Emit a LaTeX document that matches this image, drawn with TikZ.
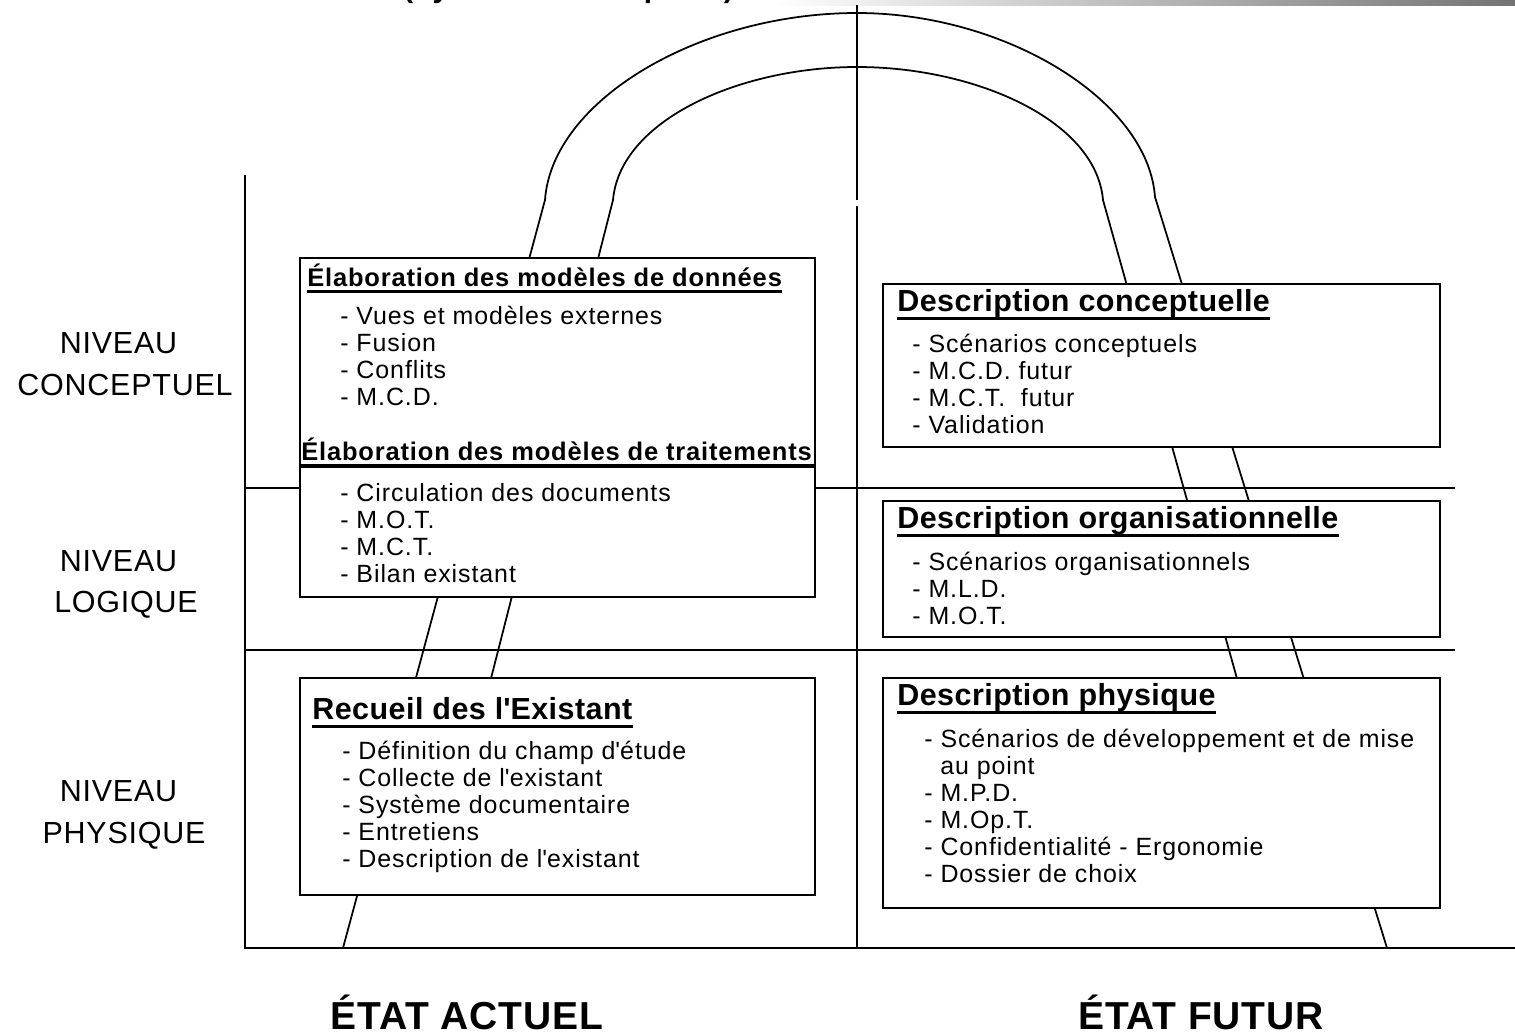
\documentclass[tikz,border=0pt]{standalone}
\usepackage{fontspec}
\setmainfont{Liberation Sans}
\newfontfamily\bodyfont{Liberation Sans}[LetterSpace=3.7]
\newfontfamily\headfont{Liberation Sans}[LetterSpace=3.3]
\newfontfamily\bigheadfont{Liberation Sans}[LetterSpace=1.5]
\newfontfamily\levelfont{Liberation Sans}[LetterSpace=2.5]
\newfontfamily\statefont{Liberation Sans}[LetterSpace=2]
\newfontfamily\titlefont{Liberation Sans}[LetterSpace=5]
\usetikzlibrary{calc}
\newcommand\pxu{0.02cm}
\newcommand\ap{\textquotesingle}

\tikzset{
  rule/.style={line width=1.1pt},
  band/.style={line width=1pt, line join=round},
  panel/.style={draw, line width=1.1pt, fill=white, inner sep=0pt},
  item/.style={anchor=base west, inner sep=0pt,
    font=\bodyfont\fontsize{14.2pt}{15.36pt}\selectfont},
  lhead/.style={anchor=base west, inner sep=0pt,
    font=\headfont\bfseries\fontsize{14.5pt}{17pt}\selectfont},
  rhead/.style={anchor=base west, inner sep=0pt,
    font=\bigheadfont\bfseries\fontsize{17.35pt}{20pt}\selectfont},
  level/.style={anchor=base, inner sep=0pt,
    font=\levelfont\fontsize{17.35pt}{20pt}\selectfont},
  state/.style={anchor=base, inner sep=0pt,
    font=\statefont\bfseries\fontsize{22.2pt}{26pt}\selectfont},
  titletext/.style={anchor=base west, inner sep=0pt,
    font=\titlefont\bfseries\fontsize{16.9pt}{20pt}\selectfont},
  uline/.style={line width=1.7pt},
}

\begin{document}
\begin{tikzpicture}[x=0.02cm, y=-0.02cm]
\useasboundingbox (0,0) rectangle (1515,1035);
\fill[white] (0,0) rectangle (1515,1035);

% slide banner
\shade[left color=white, middle color=black!18, right color=black!55] (773,0) rectangle (1515,5);

% title, cut by the top edge
\begin{scope}
  \clip (0,0) rectangle (1515,1035);
  \node[titletext] (title) at (403,-3) {(cycle de conception)};
\end{scope}

% axes and level separators
\coordinate (axtop) at (245,175);
\coordinate (axbot) at (245,948);
\coordinate (axend) at (1515,948);
\draw[rule] (axtop) -- (axbot) -- (axend);
\draw[rule] (857,5) -- (857,200);
\draw[rule] (857,206) -- (857,948);
\draw[rule] (245,488) -- (1455,488);
\draw[rule] (245,650) -- (1455,650);

% the cycle band
\draw[band] (343,948) -- (545,200)
  .. controls (552,100) and (700,13) .. (857,13)
  .. controls (1005,13) and (1148,100) .. (1155,197) -- (1387,948);
\draw[band] (460,800) -- (613,200)
  .. controls (620,120) and (740,67) .. (857,67)
  .. controls (975,67) and (1096,120) .. (1103,200) -- (1271,800);

% panels
\node[panel, minimum width={515*\pxu}, minimum height={339*\pxu}] (elab) at (557.5,427.5) {};
\node[panel, minimum width={515*\pxu}, minimum height={217*\pxu}] (recueil) at (557.5,786.5) {};
\node[panel, minimum width={557*\pxu}, minimum height={163*\pxu}] (conc) at (1161.5,365.5) {};
\node[panel, minimum width={557*\pxu}, minimum height={136*\pxu}] (orga) at (1161.5,569) {};
\node[panel, minimum width={557*\pxu}, minimum height={230*\pxu}] (phys) at (1161.5,793) {};

% level labels
\node[level] (n1) at (118.5,353) {NIVEAU};
\node[level] (l1) at (125,395) {CONCEPTUEL};
\node[level] (n2) at (118.5,571) {NIVEAU};
\node[level] (l2) at (126,612) {LOGIQUE};
\node[level] (n3) at (118.5,801) {NIVEAU};
\node[level] (l3) at (124,843) {PHYSIQUE};

% state labels
\node[state] (actuel) at (467,1029) {ÉTAT ACTUEL};
\node[state] (futur) at (1201,1029) {ÉTAT FUTUR};

% data and process models
\node[lhead] (h1) at (307,286) {Élaboration des modèles de données};
\draw[uline] ($(h1.base west)+(0,5)$) -- ($(h1.base east)+(0,5)$);
\foreach \t [count=\i] in {- Vues et modèles externes, - Fusion, - Conflits, - M.C.D.}
  \node[item] (da\i) at (340,{324+27*(\i-1)}) {\t};
\node[lhead] (h2) at (301,460) {Élaboration des modèles de traitements};
\draw[line width=2pt] ($(elab.north west)+(0,209)$) -- ($(elab.north east)+(0,209)$);
\foreach \t [count=\i] in {- Circulation des documents, - M.O.T., - M.C.T., - Bilan existant}
  \node[item] (tr\i) at (340,{501+27*(\i-1)}) {\t};

% survey of the existing system
\node[rhead] (h3) at (312,719) {Recueil des l\ap Existant};
\draw[uline] ($(h3.base west)+(0,7)$) -- ($(h3.base east)+(0,7)$);
\foreach \t [count=\i] in {- Définition du champ d\ap étude, - Collecte de l\ap existant,
    - Système documentaire, - Entretiens, - Description de l\ap existant}
  \node[item] (re\i) at (342,{759+27*(\i-1)}) {\t};

% conceptual description
\node[rhead] (h4) at (897,311) {Description conceptuelle};
\draw[uline] ($(h4.base west)+(0,7)$) -- ($(h4.base east)+(0,7)$);
\foreach \t [count=\i] in {- Scénarios conceptuels, - M.C.D. futur, - M.C.T.\ \ futur, - Validation}
  \node[item] (co\i) at (912,{352+27*(\i-1)}) {\t};

% organisational description
\node[rhead] (h5) at (897,528) {Description organisationnelle};
\draw[uline] ($(h5.base west)+(0,7)$) -- ($(h5.base east)+(0,7)$);
\foreach \t [count=\i] in {- Scénarios organisationnels, - M.L.D., - M.O.T.}
  \node[item] (or\i) at (912,{570+27*(\i-1)}) {\t};

% physical description
\node[rhead] (h6) at (897,705) {Description physique};
\draw[uline] ($(h6.base west)+(0,7)$) -- ($(h6.base east)+(0,7)$);
\node[item] (ph1) at (924,747) {- Scénarios de développement et de mise};
\node[item] (ph2) at (940,774) {au point};
\foreach \t [count=\i from 3] in {- M.P.D., - M.Op.T., - Confidentialité - Ergonomie, - Dossier de choix}
  \node[item] (ph\i) at (924,{801+27*(\i-3)}) {\t};
\end{tikzpicture}
\end{document}
